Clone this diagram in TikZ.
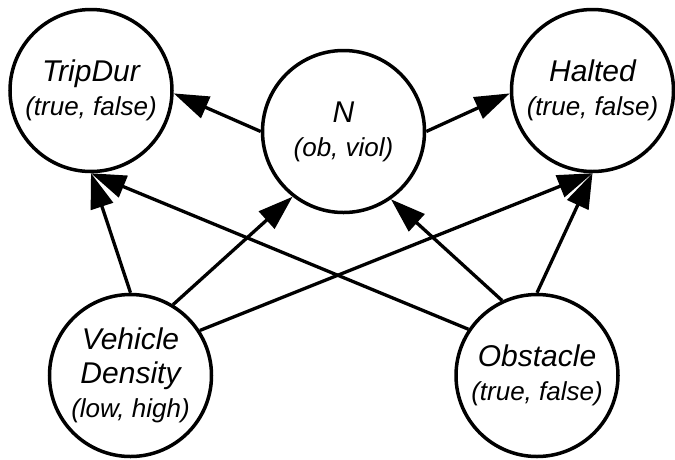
\documentclass[tikz,border=0pt]{standalone}
\usepackage{fontspec}
\setmainfont{Liberation Sans}
\usetikzlibrary{arrows.meta}
% smaller type for the value ranges under each variable name
\newcommand\statevals[1]{{\fontsize{26}{34}\selectfont #1}}
\begin{document}
\begin{tikzpicture}[x=1pt,y=-1pt,
  var/.style={circle,draw,line width=3.5pt,minimum size=162pt,inner sep=0pt,
    align=center,font=\itshape\fontsize{30}{34}\selectfont},
  dep/.style={line width=3.3pt,-{Triangle[length=35pt,width=23pt]}}]
\useasboundingbox (0,0) rectangle (675,459);

% variables
\node[var] (trip)   at (91,90.5)    {TripDur\\\statevals{(true, false)}};
\node[var] (n)      at (343.5,131.5){N\\\statevals{(ob, viol)}};
\node[var] (halted) at (592.5,90.5) {Halted\\\statevals{(true, false)}};
\node[var] (vd)     at (130.5,375.5){Vehicle\\Density\\\statevals{(low, high)}};
\node[var] (obs)    at (537,375.5)  {Obstacle\\\statevals{(true, false)}};

% dependencies
\draw[dep] (n.180)  -- (trip.-2);
\draw[dep] (n.0)    -- (halted.182);
\draw[dep] (vd.90)  -- (trip.-90);
\draw[dep] (obs.146) -- (trip.-90);
\draw[dep] (vd.59)  -- (n.-128);
\draw[dep] (obs.115) -- (n.-55);
\draw[dep] (vd.33)  -- (halted.-90);
\draw[dep] (obs.90) -- (halted.-90);
\end{tikzpicture}
\end{document}
